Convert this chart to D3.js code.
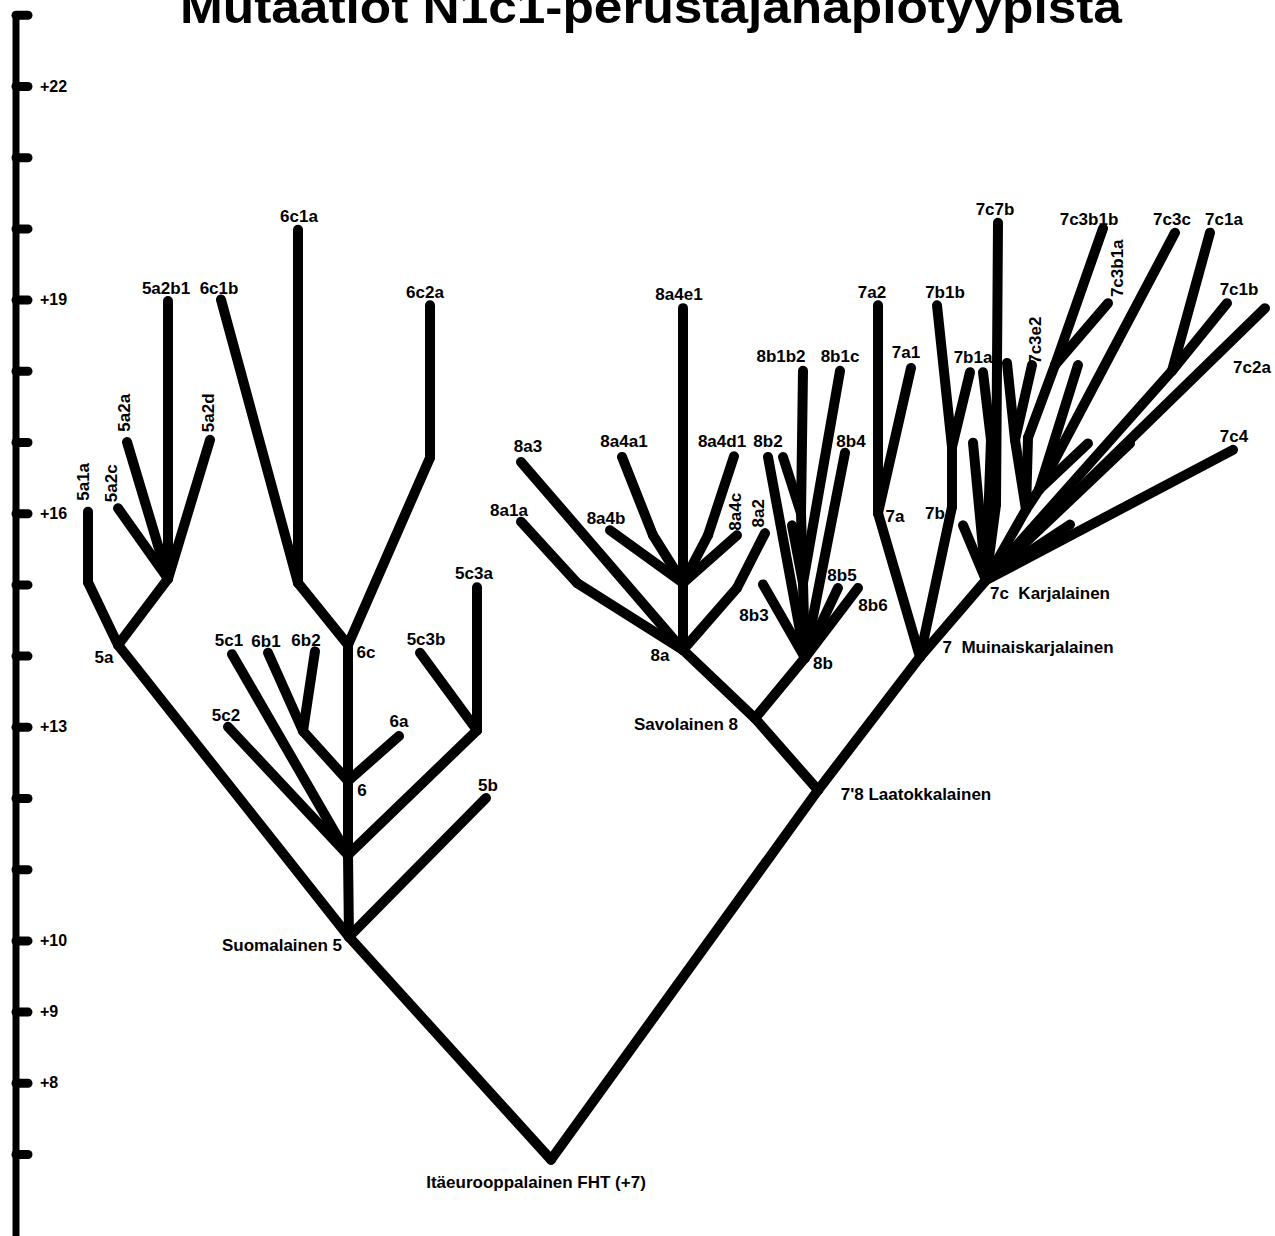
<!DOCTYPE html>
<html>
<head>
<meta charset="utf-8">
<script src="https://cdn.jsdelivr.net/npm/d3@7"></script>
<style>
  body { margin: 0; background: #fff; }
  svg { display: block; }
  text { font-family: "Liberation Sans", Arial, sans-serif; font-weight: bold; fill: #000; white-space: pre; }
</style>
</head>
<body>
<svg width="1275" height="1236"></svg>
<script>
// tree nodes: [id, parent, column, mutations from founder]
var trunk = [
  ['FHT', null, 551, 6.92],
  ['5', 'FHT', 349, 10.05],
  ["7'8", 'FHT', 818, 12.11]
];

var clade5 = [
  ['5c', '5', 348, 11.2],
  ['5b', '5', 486, 12.0],
  ['5a', '5', 118, 14.15],
  ['5c2', '5c', 228, 13.0],
  ['5c1', '5c', 232, 14.02],
  ['6', '5c', 348, 12.24],
  ['5c3', '5c', 477, 12.95],
  ['5c3a', '5c3', 477, 14.96],
  ['5c3b', '5c3', 420, 14.04],
  ['6a', '6', 399, 12.87],
  ['6b', '6', 303, 12.94],
  ['6b1', '6b', 268, 14.04],
  ['6b2', '6b', 315, 14.06],
  ['6c', '6', 348, 14.15],
  ['6c1', '6c', 298, 15.02],
  ['6c1a', '6c1', 298, 19.98],
  ['6c1b', '6c1', 221, 19.0],
  ['6c2', '6c', 430, 16.78],
  ['6c2a', '6c2', 430, 18.92],
  ['5a1', '5a', 88, 15.03],
  ['5a1a', '5a1', 88, 16.02],
  ['5a2', '5a', 168, 15.08],
  ['5a2b', '5a2', 168, 18.05],
  ['5a2b1', '5a2b', 168, 18.98],
  ['5a2c', '5a2', 118, 16.07],
  ['5a2a', '5a2', 127, 17.0],
  ['5a2d', '5a2', 210, 17.03]
];

var clade8 = [
  ['8', "7'8", 755, 13.12],
  ['8a', '8', 683, 14.08],
  ['8b', '8', 805, 13.97],
  ['8a4', '8a', 683, 15.02],
  ['8a4e1', '8a4', 683, 18.88],
  ['8a1', '8a', 577, 15.02],
  ['8a1a', '8a1', 521, 15.88],
  ['8a3', '8a', 521, 16.72],
  ['8a2', '8a', 737, 14.95],
  ['8a2x', '8a2', 765, 15.72],
  ['8a4b', '8a4', 610, 15.76],
  ['8a4a', '8a4', 653, 15.69],
  ['8a4a1', '8a4a', 622, 16.79],
  ['8a4c', '8a4', 737, 15.69],
  ['8a4d', '8a4', 708, 15.69],
  ['8a4d1', '8a4d', 734, 16.8],
  ['8b3', '8b', 763, 15.0],
  ['8b2', '8b', 768, 16.79],
  ['8b1', '8b', 803, 15.02],
  ['8b1b', '8b1', 801, 16.0],
  ['8b1b2', '8b1b', 803, 18.0],
  ['8b1b1', '8b1b', 783, 16.79],
  ['8b1a', '8b1', 792, 15.83],
  ['8b1c', '8b1', 840, 18.0],
  ['8b4', '8b', 845, 16.85],
  ['8b5', '8b', 838, 14.95],
  ['8b6', '8b', 858, 14.95]
];

var clade7 = [
  ['7', "7'8", 920, 13.98],
  ['7a', '7', 878, 16.0],
  ['7a2', '7a', 878, 18.92],
  ['7a1', '7a', 911, 18.04],
  ['7b', '7', 952, 16.09],
  ['7b1', '7b', 952, 16.93],
  ['7b1b', '7b1', 937, 18.92],
  ['7b1a', '7b1', 970, 17.98],
  ['7c', '7', 986, 15.06],
  ['7c.a', '7c', 963, 15.83],
  ['7c.b', '7c', 973, 16.99],
  ['7c.c', '7c', 991, 17.03],
  ['7c.c1', '7c.c', 983, 17.98],
  ['7c7', '7c', 996, 16.12],
  ['7c7b', '7c7', 998, 20.08],
  ['7c3', '7c', 1026, 16.05],
  ['7c3e', '7c3', 1015, 17.03],
  ['7c3e1', '7c3e', 1007, 18.11],
  ['7c3e2', '7c3e', 1032, 18.08],
  ['7c3b0', '7c3', 1028, 17.06],
  ['7c3b', '7c3b0', 1055, 18.08],
  ['7c3b1b', '7c3b', 1103, 20.0],
  ['7c3b1a', '7c3b', 1108, 18.95],
  ['7c3x', '7c3', 1039, 16.33],
  ['7c3c', '7c3x', 1175, 19.94],
  ['7c3d', '7c3x', 1078, 18.08],
  ['7c3f', '7c3x', 1088, 16.98],
  ['7c.d', '7c', 1130, 16.98],
  ['7c1', '7c', 1172, 18.0],
  ['7c1a', '7c1', 1210, 19.94],
  ['7c1b', '7c1', 1227, 18.95],
  ['7c2a', '7c', 1265, 18.88],
  ['7c4', '7c', 1233, 16.89],
  ['7c.e', '7c', 1070, 15.84]
];

// labels: [text, column, mutations, rotated]
var labels5 = [
  ['5a1a', 83, 16.44, 1], ['5a2c', 111, 16.42, 1], ['5a2a', 124, 17.41, 1], ['5a2d', 208, 17.41, 1],
  ['5a2b1', 166, 19.16, 0], ['6c1b', 219, 19.16, 0], ['6c1a', 299, 20.17, 0], ['6c2a', 425, 19.11, 0],
  ['5a', 104, 13.98, 0], ['5c1', 229, 14.22, 0], ['6b1', 266, 14.2, 0], ['6b2', 306, 14.22, 0],
  ['6c', 366, 14.05, 0], ['5c3b', 426, 14.23, 0], ['5c3a', 474, 15.16, 0], ['5c2', 226, 13.17, 0],
  ['6a', 399, 13.08, 0], ['6', 362, 12.11, 0], ['5b', 488, 12.18, 0],
  ['Suomalainen 5', 282, 9.94, 0], ['Itäeurooppalainen FHT (+7)', 536, 6.61, 0]
];

var labels8 = [
  ['8a3', 528, 16.94, 0], ['8a1a', 509, 16.04, 0], ['8a4a1', 624, 17.01, 0], ['8a4b', 606, 15.93, 0],
  ['8a4e1', 679, 19.08, 0], ['8a4d1', 722, 17.01, 0], ['8a4c', 735, 16.02, 1], ['8a2', 758, 16.0, 1],
  ['8a', 660, 14.01, 0], ['Savolainen 8', 686, 13.04, 0], ['8b1b2', 781, 18.21, 0], ['8b1c', 840, 18.21, 0],
  ['8b2', 768, 17.01, 0], ['8b4', 851, 17.01, 0], ['8b5', 842, 15.13, 0], ['8b6', 873, 14.71, 0],
  ['8b3', 754, 14.57, 0], ['8b', 823, 13.9, 0], ["7'8 Laatokkalainen", 916, 12.06, 0]
];

var labels7 = [
  ['7a2', 872, 19.11, 0], ['7a1', 906, 18.26, 0], ['7a', 895, 15.96, 0], ['7b1b', 945, 19.11, 0],
  ['7b1a', 973, 18.19, 0], ['7b', 935, 16.0, 0], ['7c7b', 995, 20.27, 0], ['7c3e2', 1035, 18.43, 1],
  ['7c3b1b', 1089, 20.13, 0], ['7c3b1a', 1117, 19.44, 1], ['7c3c', 1172, 20.13, 0], ['7c1a', 1224, 20.13, 0],
  ['7c1b', 1239, 19.15, 0], ['7c2a', 1252, 18.05, 0], ['7c4', 1234, 17.08, 0],
  ['7c  Karjalainen', 1050, 14.88, 0], ['7  Muinaiskarjalainen', 1028, 14.12, 0]
];

var axisSteps = d3.range(7, 24);
var axisLabelled = [8, 9, 10, 13, 16, 19, 22];
var title = 'Mutaatiot N1c1-perustajahaplotyypistä';

var svg = d3.select('svg'),
  width = +svg.attr('width'),
  height = +svg.attr('height');

var x = d3.scaleLinear().domain([0, 1275]).range([0, width]);
var y = d3.scaleLinear().domain([7, 22]).range([1154, 86]);

var nodes = trunk.concat(clade5, clade8, clade7);
var byId = new Map(nodes.map(function (d) { return [d[0], d]; }));

// axis
svg.append('line')
  .attr('x1', 16).attr('x2', 16)
  .attr('y1', y(23) - 2).attr('y2', y(5.7))
  .attr('stroke', '#000').attr('stroke-width', 7);

var axis = svg.append('g')
  .attr('transform', 'translate(16,0)')
  .call(d3.axisRight(y)
    .tickValues(axisSteps)
    .tickSize(12)
    .tickPadding(12)
    .tickFormat(function (d) { return axisLabelled.indexOf(d) >= 0 ? '+' + d : ''; }));
axis.select('.domain').remove();
axis.selectAll('.tick line')
  .attr('stroke', '#000').attr('stroke-width', 9).attr('stroke-linecap', 'round');
axis.selectAll('.tick text')
  .attr('font-family', null)
  .style('font-size', '16px');
axis.attr('font-family', null).attr('font-size', null);

// branches
svg.append('g')
  .selectAll('line')
  .data(nodes.filter(function (d) { return d[1]; }))
  .enter()
  .append('line')
  .attr('x1', function (d) { return x(byId.get(d[1])[2]); })
  .attr('y1', function (d) { return y(byId.get(d[1])[3]); })
  .attr('x2', function (d) { return x(d[2]); })
  .attr('y2', function (d) { return y(d[3]); })
  .attr('stroke', '#000')
  .attr('stroke-width', 10)
  .attr('stroke-linecap', 'round');

// labels
svg.append('g')
  .selectAll('text')
  .data(labels5.concat(labels8, labels7))
  .enter()
  .append('text')
  .attr('transform', function (d) {
    return 'translate(' + x(d[1]) + ',' + y(d[2]) + ')' + (d[3] ? ' rotate(-90)' : '');
  })
  .attr('text-anchor', 'middle')
  .attr('dy', '0.35em')
  .style('font-size', '17px')
  .text(function (d) { return d[0]; });

svg.append('text')
  .attr('x', 651)
  .attr('y', 23)
  .attr('text-anchor', 'middle')
  .attr('textLength', 942)
  .attr('lengthAdjust', 'spacingAndGlyphs')
  .style('font-size', '46px')
  .text(title);
</script>
</body>
</html>
